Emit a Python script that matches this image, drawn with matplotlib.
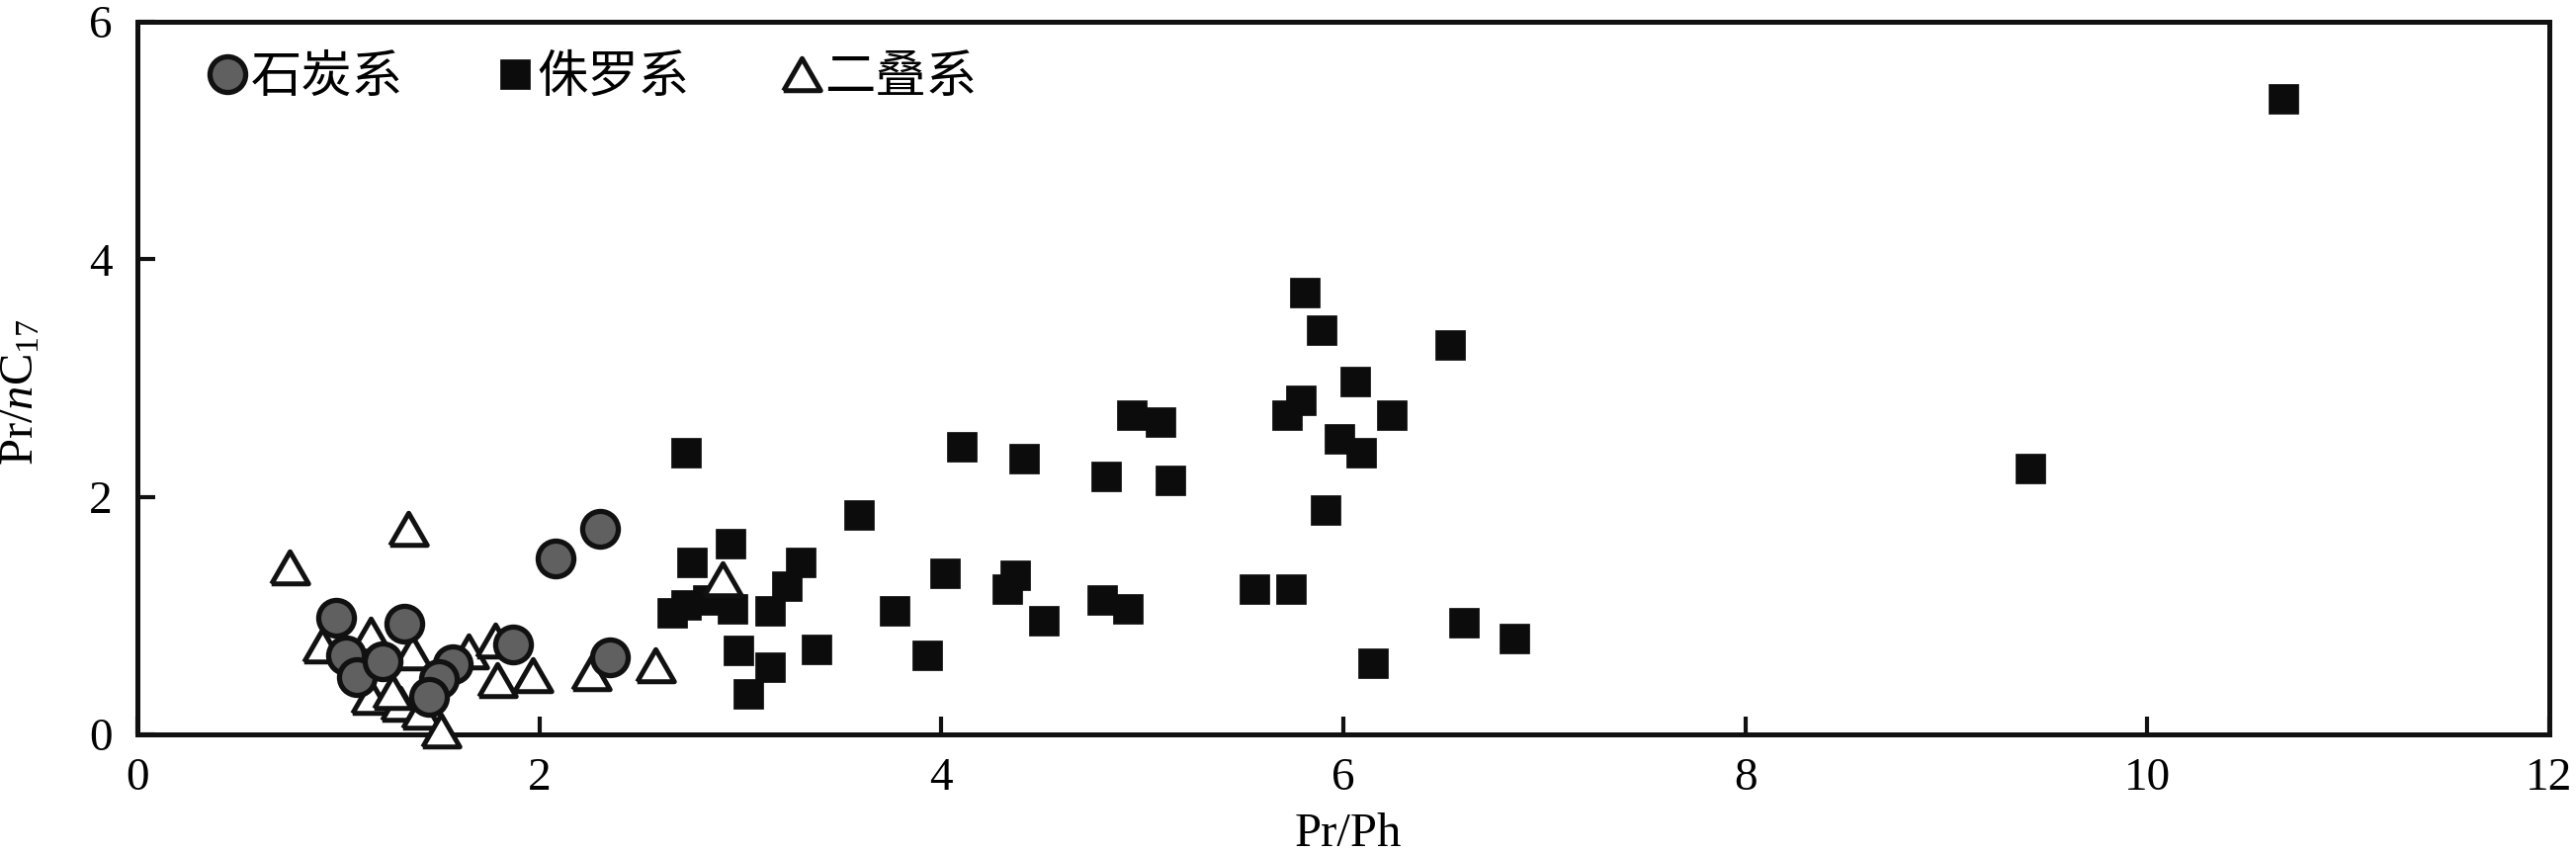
import matplotlib
matplotlib.use("Agg")
import matplotlib.pyplot as plt
from matplotlib.lines import Line2D

# ---- data ----
carb_x = [0.99, 2.30, 2.08, 1.33, 1.04, 1.09, 1.22, 1.57, 1.50, 1.45, 1.87, 2.35]
carb_y = [0.98, 1.73, 1.48, 0.93, 0.67, 0.48, 0.62, 0.59, 0.47, 0.32, 0.76, 0.65]

jur_x = [2.73, 4.10, 4.41, 4.95, 5.09, 4.82, 5.14, 3.59, 2.95, 2.76, 3.30, 3.23,
         2.66, 2.73, 2.84, 2.96, 3.15, 4.02, 4.37, 4.33, 3.77, 4.51, 4.80, 4.93,
         5.56, 5.74, 2.99, 3.15, 3.38, 3.04, 3.93, 5.81, 5.89, 6.53, 6.06, 5.79,
         5.72, 6.24, 5.98, 6.09, 5.91, 6.60, 6.85, 6.15, 9.42, 10.68]
jur_y = [2.37, 2.42, 2.32, 2.69, 2.63, 2.17, 2.14, 1.85, 1.61, 1.45, 1.45, 1.25,
         1.02, 1.09, 1.13, 1.06, 1.04, 1.36, 1.34, 1.22, 1.04, 0.96, 1.13, 1.06,
         1.22, 1.22, 0.71, 0.57, 0.72, 0.34, 0.67, 3.72, 3.40, 3.28, 2.97, 2.81,
         2.69, 2.69, 2.49, 2.37, 1.89, 0.94, 0.81, 0.60, 2.24, 5.35]

perm_x = [0.76, 1.35, 0.92, 1.16, 1.37, 1.16, 1.31, 1.27, 1.41, 1.51, 1.65, 1.78,
          1.79, 1.97, 2.26, 2.58, 2.91]
perm_y = [1.41, 1.73, 0.75, 0.84, 0.69, 0.32, 0.26, 0.36, 0.19, 0.03, 0.70, 0.79,
          0.46, 0.50, 0.52, 0.58, 1.31]

series_names = ["石炭系", "侏罗系", "二叠系"]
x_ticks = [0, 2, 4, 6, 8, 10, 12]
y_ticks = [0, 2, 4, 6]
x_label = "Pr/Ph"
y_label = r"Pr/$n$C$_{17}$"

# ---- style ----
plt.rcParams["font.family"] = ["Liberation Serif", "Noto Sans CJK SC", "DejaVu Sans"]
plt.rcParams["mathtext.fontset"] = "custom"
plt.rcParams["mathtext.rm"] = "Liberation Serif"
plt.rcParams["mathtext.it"] = "Liberation Serif:italic"

fig = plt.figure(figsize=(26.06, 8.63), dpi=100)
ax = fig.add_axes([0.0533, 0.139, 0.9363, 0.8355])

tri = [(-1, -0.866), (1, -0.866), (0, 0.866), (-1, -0.866)]

circ_style = dict(ls="none", marker="o", ms=26, mfc="#606060", mec="#111111", mew=3.8)
sq_style = dict(ls="none", marker="s", ms=21, mfc="#0c0c0c", mec="#0c0c0c", mew=0.5)
tri_style = dict(ls="none", marker=tri, ms=27, mfc="white", mec="#111111", mew=3.6)

ax.plot(jur_x, jur_y, zorder=3, clip_on=False, **sq_style)
ax.plot(perm_x, perm_y, zorder=4, clip_on=False, **tri_style)
ax.plot(carb_x, carb_y, zorder=5, clip_on=False, **circ_style)

ax.set_xlim(0, 12)
ax.set_ylim(0, 6)
ax.set_xticks(x_ticks)
ax.set_yticks(y_ticks)
ax.tick_params(direction="in", length=13, width=3, labelsize=34, color="#111111")
ax.tick_params(axis="x", pad=17)
ax.tick_params(axis="y", pad=18)
for s in ax.spines.values():
    s.set_linewidth(3.6)
    s.set_color("#111111")

ax.set_xlabel(x_label, fontsize=35)
ax.xaxis.set_label_coords(0.502, -0.110)
ax.set_ylabel(y_label, fontsize=35)
ax.yaxis.set_label_coords(-0.039, 0.48)

handles = [Line2D([], [], **circ_style), Line2D([], [], **sq_style),
           Line2D([], [], **tri_style)]
leg = ax.legend(handles, series_names, loc="center left",
                bbox_to_anchor=(0.029, 0.922), ncol=3, frameon=False,
                handlelength=0.8, handletextpad=0.05, columnspacing=1.8,
                borderaxespad=0, borderpad=0,
                prop={"family": ["Noto Sans CJK SC"], "size": 37})

fig.savefig("out.png", dpi=100)
